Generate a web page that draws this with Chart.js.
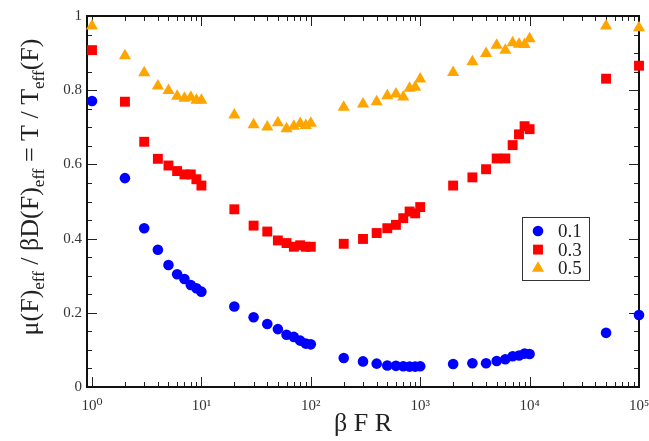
<!DOCTYPE html>
<html>
<head>
<meta charset="utf-8">
<script src="https://cdn.jsdelivr.net/npm/chart.js@4/dist/chart.umd.min.js"></script>
<style>
  html, body { margin: 0; padding: 0; background: #fff; }
  #wrap { width: 649px; height: 441px; }
</style>
</head>
<body>
<div id="wrap"><canvas id="mobilityChart"></canvas></div>
<script>
// values
const betaFR = [1, 2, 3, 4, 5, 6, 7, 8, 9, 10,
                20, 30, 40, 50, 60, 70, 80, 90, 100,
                200, 300, 400, 500, 600, 700, 800, 900, 1000,
                2000, 3000, 4000, 5000, 6000, 7000, 8000, 9000, 10000,
                50000, 100000];
const ratio01 = [0.771, 0.563, 0.428, 0.370, 0.329, 0.304, 0.291, 0.275, 0.266, 0.257,
                 0.217, 0.188, 0.170, 0.156, 0.141, 0.135, 0.125, 0.117, 0.115,
                 0.078, 0.069, 0.063, 0.058, 0.057, 0.056, 0.055, 0.055, 0.056,
                 0.062, 0.064, 0.064, 0.070, 0.075, 0.083, 0.085, 0.090, 0.089,
                 0.146, 0.194];
const ratio03 = [0.908, 0.769, 0.661, 0.615, 0.597, 0.582, 0.573, 0.573, 0.560, 0.543,
                 0.479, 0.435, 0.419, 0.395, 0.388, 0.378, 0.382, 0.378, 0.378,
                 0.386, 0.399, 0.415, 0.428, 0.437, 0.455, 0.473, 0.468, 0.485,
                 0.543, 0.565, 0.587, 0.616, 0.616, 0.652, 0.681, 0.703, 0.695,
                 0.831, 0.866];
const ratio05 = [0.973, 0.893, 0.847, 0.811, 0.799, 0.784, 0.778, 0.781, 0.773, 0.773,
                 0.733, 0.707, 0.701, 0.712, 0.696, 0.703, 0.710, 0.705, 0.711,
                 0.754, 0.763, 0.769, 0.785, 0.790, 0.782, 0.805, 0.808, 0.830,
                 0.848, 0.877, 0.899, 0.921, 0.908, 0.928, 0.924, 0.923, 0.939,
                 0.973, 0.968];
const seriesLabels = ['0.1', '0.3', '0.5'];
const xTickValues = [1, 10, 100, 1000, 10000, 100000];
const yTickValues = [0, 0.2, 0.4, 0.6, 0.8, 1];

const serif = "'Liberation Serif', 'DejaVu Serif', serif";
const superscripts = ['\u2070', '\u00b9', '\u00b2', '\u00b3', '\u2074', '\u2075'];

function toPoints(values) {
    return values.map((v, i) => ({ x: betaFR[i], y: v }));
}

function drawMarker(ctx, style, x, y, r, color) {
    ctx.fillStyle = color;
    ctx.beginPath();
    if (style === 'circle') {
        ctx.arc(x, y, r, 0, Math.PI * 2);
    } else if (style === 'rect') {
        const s = r * Math.SQRT1_2;
        ctx.rect(x - s, y - s, 2 * s, 2 * s);
    } else {
        for (let k = 0; k < 3; k++) {
            const a = k * 2 * Math.PI / 3;
            ctx.lineTo(x + Math.sin(a) * r, y - Math.cos(a) * r);
        }
        ctx.closePath();
    }
    ctx.fill();
}

// frame with inward ticks on all four sides
const frameTicks = {
    id: 'frameTicks',
    beforeDatasetsDraw(chart) {
        const { ctx, chartArea: a, scales: { x, y } } = chart;
        ctx.save();
        ctx.strokeStyle = '#222';
        ctx.lineWidth = 1;
        ctx.beginPath();
        for (let k = 0; k <= 4; k++) {
            for (let m = 1; m <= 9; m++) {
                const v = m * Math.pow(10, k);
                if (v < x.min || v > x.max) continue;
                const px = Math.round(x.getPixelForValue(v)) + 0.5;
                const len = m === 1 ? 10 : 5;
                ctx.moveTo(px, a.bottom); ctx.lineTo(px, a.bottom - len);
                ctx.moveTo(px, a.top); ctx.lineTo(px, a.top + len);
            }
        }
        const px5 = Math.round(x.getPixelForValue(100000)) + 0.5;
        ctx.moveTo(px5, a.bottom); ctx.lineTo(px5, a.bottom - 10);
        ctx.moveTo(px5, a.top); ctx.lineTo(px5, a.top + 10);
        for (let i = 0; i <= 20; i++) {
            const v = i * 0.05;
            const py = Math.round(y.getPixelForValue(v)) + 0.5;
            const len = i % 4 === 0 ? 10 : 5;
            ctx.moveTo(a.left, py); ctx.lineTo(a.left + len, py);
            ctx.moveTo(a.right, py); ctx.lineTo(a.right - len, py);
        }
        ctx.stroke();
        ctx.lineWidth = 2;
        ctx.strokeStyle = '#111';
        ctx.strokeRect(a.left, a.top, a.right - a.left, a.bottom - a.top);
        ctx.restore();
    }
};

// y title with subscripts, and the boxed legend inside the plot
const extras = {
    id: 'extras',
    afterDraw(chart) {
        const ctx = chart.ctx;
        ctx.save();
        const parts = [
            ['\u03bc(F)', 0], ['eff', 1], [' / \u03b2D(F)', 0], ['eff', 1],
            [' = T / T', 0], ['eff', 1], ['(F)', 0]
        ];
        const mainFont = '26px ' + serif;
        const subFont = '17px ' + serif;
        let total = 0;
        parts.forEach(p => { ctx.font = p[1] ? subFont : mainFont; total += ctx.measureText(p[0]).width; });
        ctx.translate(38, 187);
        ctx.rotate(-Math.PI / 2);
        ctx.fillStyle = '#222';
        ctx.textBaseline = 'alphabetic';
        let pos = -total / 2;
        parts.forEach(p => {
            ctx.font = p[1] ? subFont : mainFont;
            ctx.fillText(p[0], pos, p[1] ? 6 : 0);
            pos += ctx.measureText(p[0]).width;
        });
        ctx.restore();

        ctx.save();
        ctx.strokeStyle = '#333';
        ctx.lineWidth = 1;
        ctx.strokeRect(522.5, 217.5, 67, 63);
        ctx.font = '19px ' + serif;
        ctx.textBaseline = 'middle';
        chart.data.datasets.forEach((ds, i) => {
            const yy = 231 + i * 18.6;
            drawMarker(ctx, ds.pointStyle, 538, yy, ds.pointRadius, ds.backgroundColor);
            ctx.fillStyle = '#222';
            ctx.fillText(ds.label, 558, yy + 1);
        });
        ctx.restore();
    }
};

const ctx = document.getElementById('mobilityChart').getContext('2d');
const mobilityChart = new Chart(ctx, {
    type: 'scatter',
    data: {
        datasets: [{
            label: seriesLabels[0],
            data: toPoints(ratio01),
            pointStyle: 'circle',
            pointRadius: 5.3,
            backgroundColor: '#0000ff',
            borderColor: '#0000ff',
            borderWidth: 0
        }, {
            label: seriesLabels[1],
            data: toPoints(ratio03),
            pointStyle: 'rect',
            pointRadius: 7,
            backgroundColor: '#ff0000',
            borderColor: '#ff0000',
            borderWidth: 0
        }, {
            label: seriesLabels[2],
            data: toPoints(ratio05),
            pointStyle: 'triangle',
            pointRadius: 7,
            backgroundColor: '#ffa500',
            borderColor: '#ffa500',
            borderWidth: 0
        }]
    },
    options: {
        responsive: true,
        maintainAspectRatio: false,
        animation: false,
        clip: false,
        layout: { padding: { top: 16, right: 10, left: 0, bottom: 0 } },
        plugins: {
            legend: { display: false },
            tooltip: { enabled: false }
        },
        elements: { point: { hoverRadius: 0 } },
        scales: {
            x: {
                type: 'logarithmic',
                min: 0.9,
                max: 100000,
                grid: { display: false, drawTicks: false },
                border: { display: false },
                afterBuildTicks: scale => { scale.ticks = xTickValues.map(v => ({ value: v })); },
                afterFit: scale => { scale.height = 54; scale.paddingLeft = 0; scale.paddingRight = 0; },
                ticks: {
                    autoSkip: false,
                    maxRotation: 0,
                    padding: 10,
                    color: '#333',
                    font: { family: serif, size: 15 },
                    callback: v => '10' + superscripts[Math.round(Math.log10(v))]
                },
                title: {
                    display: true,
                    text: '\u03b2 F R',
                    color: '#222',
                    font: { family: serif, size: 26 },
                    padding: { top: 0, bottom: 1 }
                }
            },
            y: {
                min: 0,
                max: 1,
                grid: { display: false, drawTicks: false },
                border: { display: false },
                afterBuildTicks: scale => { scale.ticks = yTickValues.map(v => ({ value: v })); },
                afterFit: scale => { scale.width = 87; },
                ticks: {
                    padding: 5,
                    color: '#333',
                    font: { family: serif, size: 15 },
                    callback: v => String(Number(v.toFixed(2)))
                }
            }
        }
    },
    plugins: [frameTicks, extras]
});
</script>
</body>
</html>
